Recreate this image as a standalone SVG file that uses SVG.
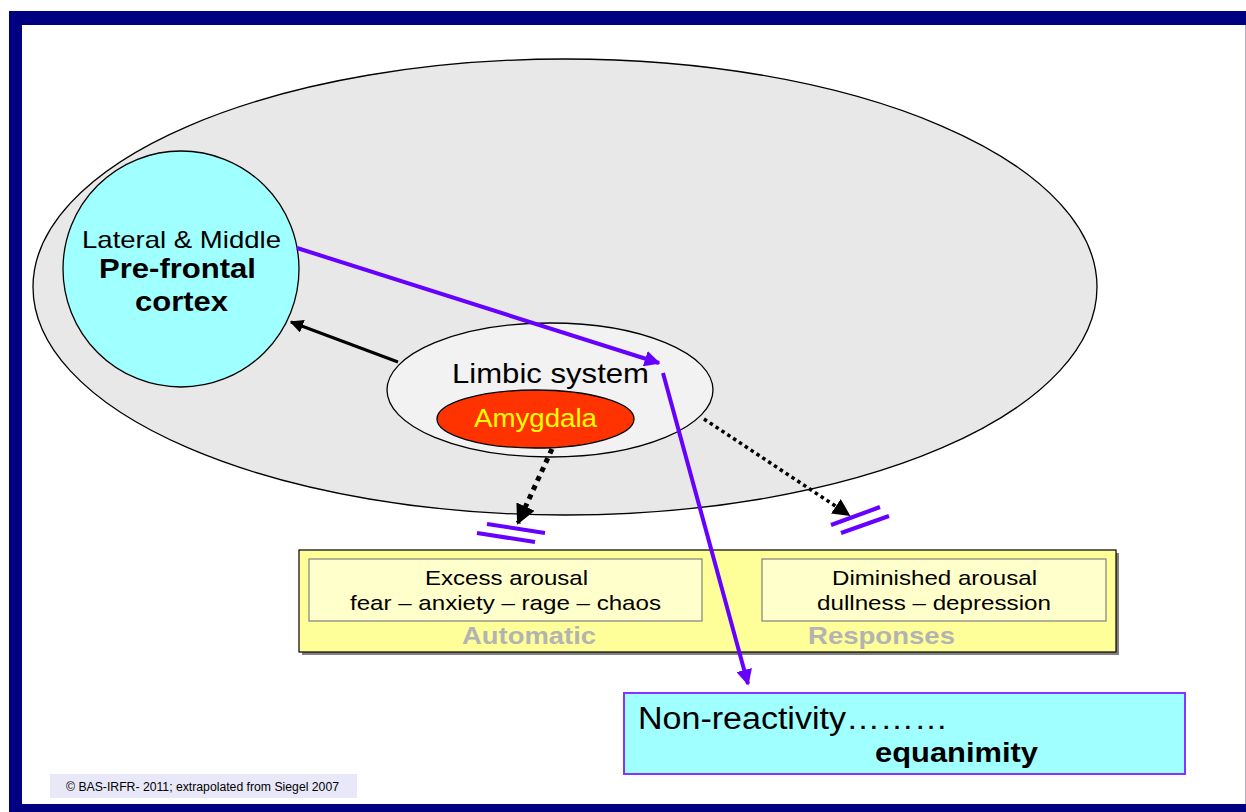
<svg xmlns="http://www.w3.org/2000/svg" width="1246" height="812" viewBox="0 0 1246 812">
<defs>
<style>
.t{font-family:"Liberation Sans",Arial,sans-serif;}
.b{font-weight:bold;}
.nd{stroke:#000;stroke-width:1.3;}
.pl{stroke:#6600ff;stroke-width:4;fill:none;}
</style>
<marker id="ap" viewBox="0 0 10 10" refX="9" refY="5" markerWidth="4" markerHeight="4" orient="auto" markerUnits="strokeWidth"><path d="M0,0 L10,5 L0,10 z" fill="#6600ff"/></marker>
<marker id="ab" viewBox="0 0 10 10" refX="9" refY="5" markerWidth="4.5" markerHeight="4.5" orient="auto" markerUnits="strokeWidth"><path d="M0,0 L10,5 L0,10 z" fill="#000"/></marker>
<marker id="ad" viewBox="0 0 10 10" refX="9" refY="5" markerWidth="4" markerHeight="4" orient="auto" markerUnits="strokeWidth"><path d="M0,0 L10,5 L0,10 z" fill="#000"/></marker>
<marker id="ad2" viewBox="0 0 10 10" refX="9" refY="5" markerWidth="5" markerHeight="5" orient="auto" markerUnits="strokeWidth"><path d="M0,0 L10,5 L0,10 z" fill="#000"/></marker>
</defs>
<rect x="0" y="0" width="1246" height="812" fill="#fff"/>
<g id="frame">
<rect x="9" y="11" width="1237" height="14" fill="#000080"/>
<rect x="9" y="11" width="13" height="801" fill="#000080"/>
<rect x="9" y="804" width="1237" height="8" fill="#000080"/>
<line x1="1245.5" y1="25" x2="1245.5" y2="804" stroke="#b0b0c8" stroke-width="1"/>
</g>
<g id="brain">
<ellipse cx="565" cy="287" rx="532" ry="228" fill="#e8e8e8" class="nd"/>
</g>
<g id="prefrontal">
<circle cx="181" cy="269" r="118" fill="#a0ffff" class="nd"/>
<text class="t" x="82" y="248" font-size="24" textLength="199" lengthAdjust="spacingAndGlyphs">Lateral &amp; Middle</text>
<text class="t b" x="99" y="278" font-size="28" textLength="157" lengthAdjust="spacingAndGlyphs">Pre-frontal</text>
<text class="t b" x="135" y="311" font-size="28" textLength="93" lengthAdjust="spacingAndGlyphs">cortex</text>
</g>
<g id="limbic">
<ellipse cx="550" cy="390" rx="163" ry="67" fill="#f2f2f2" class="nd"/>
<text class="t" x="452" y="383" font-size="28" textLength="197" lengthAdjust="spacingAndGlyphs">Limbic system</text>
</g>
<g id="amygdala">
<ellipse cx="535.5" cy="419" rx="98.5" ry="29" fill="#ff3300" class="nd"/>
<text class="t" x="474" y="427" font-size="25" fill="#ffff00" textLength="123" lengthAdjust="spacingAndGlyphs">Amygdala</text>
</g>
<g id="responses">
<rect x="302" y="553" width="817" height="102" fill="#808080"/>
<rect x="299" y="550" width="817" height="102" fill="#ffff99" stroke="#000" stroke-width="1.2"/>
<rect x="309" y="559" width="393" height="62" fill="#ffffcc" stroke="#808080" stroke-width="1.2"/>
<rect x="762" y="559" width="344" height="62" fill="#ffffcc" stroke="#808080" stroke-width="1.2"/>
<text class="t" x="425" y="585" font-size="21" textLength="163" lengthAdjust="spacingAndGlyphs">Excess arousal</text>
<text class="t" x="350" y="610" font-size="21" textLength="311" lengthAdjust="spacingAndGlyphs">fear – anxiety – rage – chaos</text>
<text class="t" x="832" y="585" font-size="21" textLength="205" lengthAdjust="spacingAndGlyphs">Diminished arousal</text>
<text class="t" x="817" y="610" font-size="21" textLength="234" lengthAdjust="spacingAndGlyphs">dullness – depression</text>
<text class="t b" x="462" y="644" font-size="24" fill="#b3b3b3" textLength="134" lengthAdjust="spacingAndGlyphs">Automatic</text>
<text class="t b" x="808" y="644" font-size="24" fill="#b3b3b3" textLength="147" lengthAdjust="spacingAndGlyphs">Responses</text>
</g>
<g id="equanimity">
<rect x="624" y="693" width="561" height="81" fill="#a0ffff" stroke="#8833ff" stroke-width="2"/>
<text class="t" x="638" y="729" font-size="31" textLength="310" lengthAdjust="spacingAndGlyphs">Non-reactivity………</text>
<text class="t b" x="875" y="762" font-size="27" textLength="163" lengthAdjust="spacingAndGlyphs">equanimity</text>
</g>
<g id="credit">
<rect x="50" y="774" width="307" height="24" fill="#e8e8f8"/>
<text class="t" x="66" y="791" font-size="12" textLength="273" lengthAdjust="spacingAndGlyphs">© BAS-IRFR- 2011; extrapolated from Siegel 2007</text>
</g>
<g id="connectors">
<line x1="297" y1="248" x2="659" y2="363" class="pl" marker-end="url(#ap)"/>
<line x1="663" y1="373" x2="748" y2="684" class="pl" marker-end="url(#ap)"/>
<line x1="398" y1="362" x2="291" y2="322" stroke="#000" stroke-width="3" marker-end="url(#ab)"/>
<line x1="552" y1="449" x2="518" y2="523" stroke="#000" stroke-width="5" stroke-dasharray="5,5" marker-end="url(#ad)"/>
<line x1="704" y1="419" x2="849" y2="515" stroke="#000" stroke-width="3.5" stroke-dasharray="3.5,3.5" marker-end="url(#ad2)"/>
<line x1="487" y1="524" x2="545" y2="533" class="pl"/>
<line x1="477" y1="533" x2="535" y2="542" class="pl"/>
<line x1="831" y1="525" x2="880" y2="507" class="pl"/>
<line x1="841" y1="533" x2="889" y2="516" class="pl"/>
</g>
</svg>
